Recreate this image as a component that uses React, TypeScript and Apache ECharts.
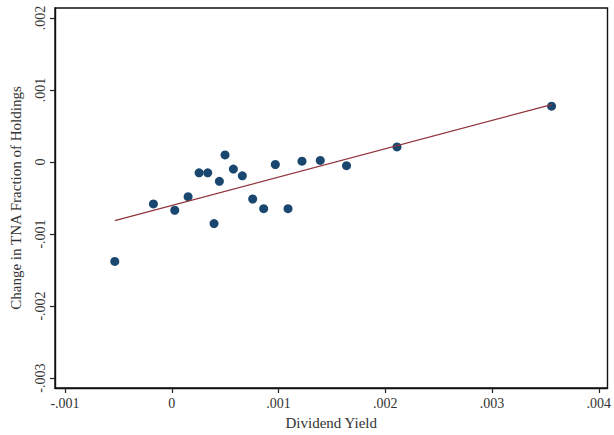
import React, { useEffect, useRef } from "react";
import * as echarts from "echarts";

// Scatter points (Dividend Yield, Change in TNA Fraction of Holdings)
const dividendYield = [
  -0.000534, -0.000172, 0.000028, 0.000153, 0.000256, 0.000337, 0.000396, 0.000446,
  0.000499, 0.000577, 0.000661, 0.000758, 0.000861, 0.00097, 0.001089, 0.00122,
  0.001391, 0.001637, 0.00211, 0.003558,
];
const tnaChange = [
  -0.00138, -0.000583, -0.00067, -0.000482, -0.000151, -0.000151, -0.000855, -0.000269,
  0.000098, -0.000099, -0.000192, -0.000514, -0.000648, -0.000035, -0.000648, 0.000011,
  0.000021, -0.000051, 0.000209, 0.000775,
];
// Fitted line endpoints
const fitX = [-0.000534, 0.003558];
const fitY = [-0.000814, 0.000798];

// Ticks
const xTickValues = [-0.001, 0, 0.001, 0.002, 0.003, 0.004];
const xTickLabels = ["-.001", "0", ".001", ".002", ".003", ".004"];
const yTickValues = [-0.003, -0.002, -0.001, 0, 0.001, 0.002];
const yTickLabels = ["-.003", "-.002", "-.001", "0", ".001", ".002"];

const FONT = "Liberation Serif";
const TEXT = "#333333";

function labelFor(values: number[], labels: string[]) {
  return (v: number) => {
    let best = 0;
    let bd = Infinity;
    values.forEach((t, i) => {
      const d = Math.abs(t - v);
      if (d < bd) {
        bd = d;
        best = i;
      }
    });
    return labels[best];
  };
}

export default function App() {
  const ref = useRef<HTMLDivElement>(null);
  useEffect(() => {
    document.body.style.margin = "0";
    if (!ref.current) return;
    const chart = echarts.init(ref.current, undefined, { renderer: "svg" });
    const pts = dividendYield.map((x, i) => [x, tnaChange[i]]);
    const fit = fitX.map((x, i) => [x, fitY[i]]);
    chart.setOption({
      animation: false,
      backgroundColor: "#ffffff",
      grid: {
        left: 55,
        top: 8,
        right: 6,
        bottom: 45,
        show: true,
        borderColor: "#111111",
        borderWidth: 1.4,
        backgroundColor: "#ffffff",
      },
      xAxis: {
        type: "value",
        min: -0.001094,
        max: 0.004082,
        name: "Dividend Yield",
        nameLocation: "middle",
        nameGap: 27,
        nameTextStyle: { fontFamily: FONT, fontSize: 15, color: TEXT },
        axisLine: { show: true, onZero: false, lineStyle: { color: "#111111", width: 1.4 } },
        axisTick: {
          show: true,
          length: 5,
          customValues: xTickValues,
          lineStyle: { color: "#222222", width: 1.2 },
        },
        axisLabel: {
          customValues: xTickValues,
          formatter: labelFor(xTickValues, xTickLabels),
          fontFamily: FONT,
          fontSize: 14,
          color: TEXT,
          margin: 8,
        },
        splitLine: { show: false },
      },
      yAxis: {
        type: "value",
        min: -0.003138,
        max: 0.002138,
        name: "Change in TNA Fraction of Holdings",
        nameLocation: "middle",
        nameGap: 32,
        nameTextStyle: { fontFamily: FONT, fontSize: 15, color: TEXT },
        axisLine: { show: true, onZero: false, lineStyle: { color: "#111111", width: 1.4 } },
        axisTick: {
          show: true,
          length: 5,
          customValues: yTickValues,
          lineStyle: { color: "#222222", width: 1.2 },
        },
        axisLabel: {
          customValues: yTickValues,
          formatter: labelFor(yTickValues, yTickLabels),
          rotate: 90,
          fontFamily: FONT,
          fontSize: 14,
          color: TEXT,
          margin: 8,
        },
        splitLine: { show: false },
      },
      series: [
        {
          type: "scatter",
          data: pts,
          symbol: "circle",
          symbolSize: 9,
          itemStyle: { color: "#1a476f", opacity: 1 },
          z: 3,
        },
        {
          type: "line",
          data: fit,
          symbol: "none",
          lineStyle: { color: "#90353b", width: 1.3 },
          z: 4,
        },
      ],
    });
    return () => chart.dispose();
  }, []);
  return <div ref={ref} style={{ width: 614, height: 435 }} />;
}
